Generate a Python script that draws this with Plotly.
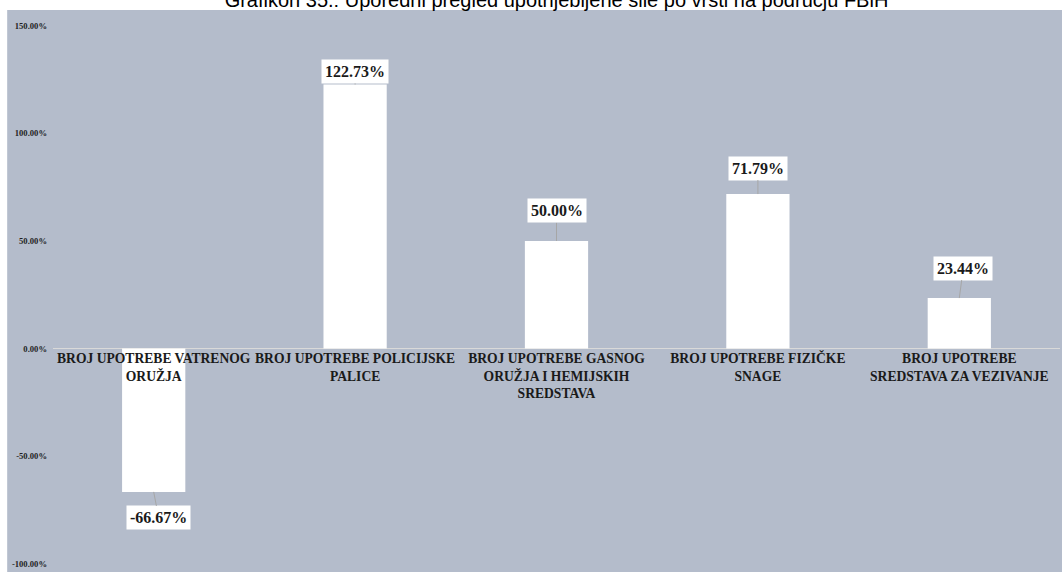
import plotly.graph_objects as go

categories = [
    'BROJ UPOTREBE VATRENOG<br>ORUŽJA',
    'BROJ UPOTREBE POLICIJSKE<br>PALICE',
    'BROJ UPOTREBE GASNOG<br>ORUŽJA I HEMIJSKIH<br>SREDSTAVA',
    'BROJ UPOTREBE FIZIČKE<br>SNAGE',
    'BROJ UPOTREBE<br>SREDSTAVA ZA VEZIVANJE',
]
values = [-66.67, 122.73, 50.00, 71.79, 23.44]
y_ticks = [150, 100, 50, 0, -50, -100]
y_tick_labels = ['150.00%', '100.00%', '50.00%', '0.00%', '-50.00%', '-100.00%']

# label offsets (px) from bar end to label centre
label_ax = [5, 0, 0, 0, 4]
label_ay = [26, -13, -30, -26, -30]

bg = '#B4BCCB'
serif = 'Liberation Serif'
y_min, y_max = -103.9, 157.35

fig = go.Figure()

fig.add_trace(go.Bar(
    x=list(range(len(categories))),
    y=values,
    marker=dict(color='white', line=dict(width=0)),
    hoverinfo='skip',
))

for i, v in enumerate(values):
    fig.add_annotation(
        x=i, y=v, xref='x', yref='y',
        text=f'{v:.2f}%',
        showarrow=True, arrowhead=0, arrowwidth=1, arrowcolor='#A6A6A6',
        standoff=0, startstandoff=0,
        ax=label_ax[i], ay=label_ay[i],
        bgcolor='white', borderpad=3,
        font=dict(family=serif, size=16, color='#1a1a1a', weight='bold'),
    )

# grey chart area incl. tick label strip on the left
fig.add_shape(
    type='rect', xref='paper', yref='paper',
    x0=-0.0455, x1=1.01, y0=0, y1=1,
    fillcolor=bg, line=dict(width=0), layer='below',
)

fig.update_layout(
    width=1062, height=572,
    margin=dict(l=52.5, r=2, t=10, b=0),
    paper_bgcolor='white',
    plot_bgcolor=bg,
    bargap=0.686,
    showlegend=False,
    title=dict(
        text='Grafikon 35.: Uporedni pregled upotrijebljene sile po vrsti na području FBiH',
        x=0.5, xanchor='center', xref='paper',
        y=1.0, yanchor='middle', yref='container',
        font=dict(family='Liberation Sans', size=20, color='black'),
    ),
    xaxis=dict(
        range=[-0.5, 4.5],
        tickmode='array',
        tickvals=list(range(len(categories))),
        ticktext=categories,
        tickangle=0,
        ticks='',
        showgrid=False,
        showline=False,
        zeroline=False,
        anchor='free',
        position=(0 - y_min) / (y_max - y_min),
        tickfont=dict(family=serif, size=13.6, color='#1a1a1a', weight='bold'),
    ),
    yaxis=dict(
        range=[y_min, y_max],
        tickmode='array',
        tickvals=y_ticks,
        ticktext=y_tick_labels,
        showgrid=False,
        showline=False,
        zeroline=True,
        zerolinecolor='#D9D9D9',
        zerolinewidth=1,
        ticks='',
        ticklabelstandoff=5,
        tickfont=dict(family=serif, size=8.6, color='#1f1f1f', weight='bold'),
    ),
)

fig.write_html('out.html', config={'displayModeBar': False},
               post_script="document.body.style.margin='0';")
